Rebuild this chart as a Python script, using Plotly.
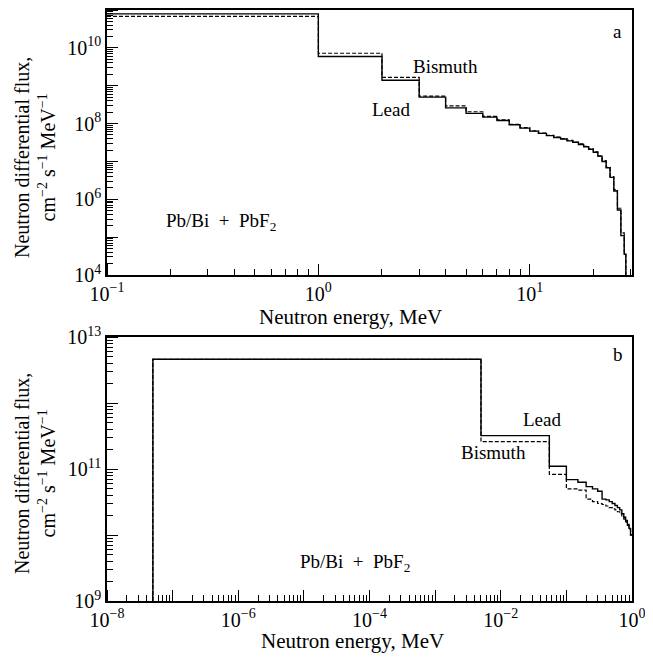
import plotly.graph_objects as go

# ---------------- data: panel a (fast neutrons) ----------------
a_edges = [0.1, 1, 2, 3, 4, 5, 6, 7, 8, 9, 10, 11, 12, 13, 14, 15, 16, 17, 18, 19,
           20, 21, 22, 23, 24, 25, 26, 27, 28, 28.5]
a_lead = [7.9e10, 5.9e9, 1.4e9, 5.0e8, 2.6e8, 1.86e8, 1.48e8, 1.2e8, 9.3e7, 7.6e7,
          6.3e7, 5.5e7, 4.8e7, 4.3e7, 3.9e7, 3.5e7, 3.2e7, 2.8e7, 2.45e7, 2.1e7,
          1.74e7, 1.38e7, 1.0e7, 6.8e6, 3.8e6, 1.66e6, 5.2e5, 1.1e5, 3.5e4]
a_bismuth = [6.8e10, 7.2e9, 1.66e9, 5.3e8, 2.95e8, 2.05e8, 1.55e8, 1.26e8, 9.6e7, 7.8e7,
             6.4e7, 5.6e7, 4.9e7, 4.4e7, 4.0e7, 3.6e7, 3.2e7, 2.9e7, 2.5e7, 2.15e7,
             1.78e7, 1.4e7, 1.05e7, 7.0e6, 4.0e6, 1.8e6, 5.8e5, 1.3e5, 4.0e4]
a_floor = 1e3  # zero flux beyond the last bin (below the axis range)

# ---------------- data: panel b (low-energy neutrons) ----------------
b_edges = [5e-8, 5e-3, 0.055, 0.1, 0.15, 0.2, 0.25, 0.3, 0.35, 0.4, 0.45, 0.5,
           0.55, 0.6, 0.65, 0.7, 0.75, 0.8, 0.85, 0.9, 0.95, 1.0]
b_lead = [4.6e12, 3.2e11, 1.1e11, 6.9e10, 6.3e10, 5.4e10, 5.0e10, 4.6e10, 3.5e10,
          3.4e10, 3.2e10, 3.0e10, 2.8e10, 2.6e10, 2.4e10, 2.1e10, 1.86e10, 1.66e10,
          1.45e10, 1.26e10, 1.0e10]
b_bismuth = [4.6e12, 2.6e11, 8.3e10, 5.0e10, 4.8e10, 3.5e10, 3.2e10, 3.0e10, 2.9e10,
             2.75e10, 2.6e10, 2.5e10, 2.4e10, 2.25e10, 2.1e10, 1.9e10, 1.74e10,
             1.58e10, 1.4e10, 1.23e10, 1.0e10]
b_floor = 1e8  # zero flux below the first bin

# tick labels (labelled decades)
a_xticks = [0.1, 1, 10]
a_xtext = ["10<sup>−1</sup>", "10<sup>0</sup>", "10<sup>1</sup>"]
a_yticks = [1e4, 1e6, 1e8, 1e10]
a_ytext = ["10<sup>4</sup>", "10<sup>6</sup>", "10<sup>8</sup>", "10<sup>10</sup>"]
b_xticks = [1e-8, 1e-6, 1e-4, 1e-2, 1]
b_xtext = ["10<sup>−8</sup>", "10<sup>−6</sup>", "10<sup>−4</sup>", "10<sup>−2</sup>", "10<sup>0</sup>"]
b_yticks = [1e9, 1e11, 1e13]
b_ytext = ["10<sup>9</sup>", "10<sup>11</sup>", "10<sup>13</sup>"]
digits = [2, 3, 4, 5, 6, 7, 8, 9]

FONT = "Liberation Serif"


def minor_positions(lo_exp, hi_exp):
    return [d * 10.0 ** e for e in range(lo_exp, hi_exp) for d in digits]


def decade_positions(lo_exp, hi_exp):
    return [10.0 ** e for e in range(lo_exp, hi_exp + 1)]


def step_xy(edges, vals, start_floor=None, end_floor=None):
    xs, ys = [], []
    if start_floor is not None:
        xs.append(edges[0]); ys.append(start_floor)
    for e, v in zip(edges[:-1], vals):
        xs.append(e); ys.append(v)
    xs.append(edges[-1])
    ys.append(end_floor if end_floor is not None else vals[-1])
    return xs, ys


fig = go.Figure()

solid = dict(color="black", width=1.4)
dashed = dict(color="black", width=1.2, dash="4px,2px")

x, y = step_xy(a_edges, a_bismuth, end_floor=a_floor)
fig.add_trace(go.Scatter(x=x, y=y, mode="lines", line=dict(**dashed, shape="hv"),
                         name="Bismuth", xaxis="x", yaxis="y", showlegend=False))
x, y = step_xy(a_edges, a_lead, end_floor=a_floor)
fig.add_trace(go.Scatter(x=x, y=y, mode="lines", line=dict(**solid, shape="hv"),
                         name="Lead", xaxis="x", yaxis="y", showlegend=False))

x, y = step_xy(b_edges, b_bismuth, start_floor=b_floor)
fig.add_trace(go.Scatter(x=x, y=y, mode="lines", line=dict(**dashed, shape="hv"),
                         name="Bismuth", xaxis="x2", yaxis="y2", showlegend=False))
x, y = step_xy(b_edges, b_lead, start_floor=b_floor)
fig.add_trace(go.Scatter(x=x, y=y, mode="lines", line=dict(**solid, shape="hv"),
                         name="Lead", xaxis="x2", yaxis="y2", showlegend=False))

# empty traces so that the twin (decade-tick) axes get drawn
for xa, ya in [("x3", "y"), ("x", "y3"), ("x4", "y2"), ("x2", "y4")]:
    fig.add_trace(go.Scatter(x=[], y=[], mode="lines", xaxis=xa, yaxis=ya,
                             showlegend=False, hoverinfo="skip"))

# the page has an 8 px body margin, so the figure is 8 px smaller than the window
W, H = 645, 649
OFF = 8
xdom = [99 / W, 624 / W]
ydom_a = [1 - 267 / H, 1 - 2 / H]
ydom_b = [1 - 593 / H, 1 - 329 / H]

tickfont = dict(family=FONT, size=20, color="black")

MAJOR_LEN, MINOR_LEN = 11, 6


def main_axis(rng, tickvals, ticktext, minors, domain, anchor):
    return dict(type="log", range=rng, domain=domain, anchor=anchor, automargin=False,
                showgrid=False, zeroline=False, showline=True, linecolor="black",
                linewidth=1.5, mirror=True, ticks="inside", ticklen=MAJOR_LEN, tickwidth=1,
                tickcolor="black", tickfont=tickfont, tickmode="array",
                tickvals=tickvals, ticktext=ticktext,
                minor=dict(ticks="inside", ticklen=MINOR_LEN, tickwidth=1, tickcolor="black",
                           tickmode="array", tickvals=minors, showgrid=False))


def overlay_axis(rng, minors, decades, domain, anchor, over):
    # long decade ticks, drawn as the minor ticks of an unlabelled twin axis
    return dict(type="log", range=rng, domain=domain, anchor=anchor, overlaying=over,
                automargin=False, showgrid=False, zeroline=False, showline=False,
                ticks="", tickmode="array", tickvals=minors, showticklabels=False,
                minor=dict(ticks="inside", ticklen=MAJOR_LEN, tickwidth=1.2, tickcolor="black",
                           tickmode="array", tickvals=decades, showgrid=False))


a_xr = [-1, 1.484]
a_yr = [4, 11]
b_xr = [-8, 0]
b_yr = [9, 13]

fig.update_layout(
    template="none",
    width=W, height=H, margin=dict(l=0, r=0, t=0, b=0),
    paper_bgcolor="white", plot_bgcolor="rgba(0,0,0,0)",
    font=dict(family=FONT, color="black"),
    xaxis=main_axis(a_xr, a_xticks, a_xtext, minor_positions(-1, 2), xdom, "y"),
    yaxis=main_axis(a_yr, a_yticks, a_ytext, minor_positions(4, 11), ydom_a, "x"),
    xaxis2=main_axis(b_xr, b_xticks, b_xtext, minor_positions(-8, 0), xdom, "y2"),
    yaxis2=main_axis(b_yr, b_yticks, b_ytext, minor_positions(9, 13), ydom_b, "x2"),
    xaxis3=overlay_axis(a_xr, minor_positions(-1, 2), decade_positions(-1, 1), xdom, "y", "x"),
    yaxis3=overlay_axis(a_yr, minor_positions(4, 11), decade_positions(4, 11), ydom_a, "x", "y"),
    xaxis4=overlay_axis(b_xr, minor_positions(-8, 0), decade_positions(-8, 0), xdom, "y2", "x2"),
    yaxis4=overlay_axis(b_yr, minor_positions(9, 13), decade_positions(9, 13), ydom_b, "x2", "y2"),
)

# axis titles (placed by pixel position of the reference)
ytitle = "Neutron differential flux,<br>cm<sup>−2</sup> s<sup>−1</sup> MeV<sup>−1</sup>"
xtitle = "Neutron energy, MeV"
titles = [
    (350, 317, xtitle, 0, 21),
    (353, 641, xtitle, 0, 21),
    (35, 158, ytitle, -90, 20),
    (35, 474, ytitle, -90, 20),
]
for sx, sy, t, ang, fs in titles:
    fig.add_annotation(xref="paper", yref="paper", x=(sx - OFF) / W, y=1 - (sy - OFF) / H,
                       text=t, showarrow=False, textangle=ang,
                       font=dict(family=FONT, size=fs, color="black"),
                       xanchor="center", yanchor="middle")

ann_font = dict(family=FONT, size=19, color="black")
pb = "Pb/Bi  +  PbF<sub>2</sub>"
labels = [
    ("x domain", "y domain", 0.973, 0.917, "a"),
    ("x domain", "y domain", 0.644, 0.785, "Bismuth"),
    ("x domain", "y domain", 0.540, 0.623, "Lead"),
    ("x domain", "y domain", 0.217, 0.200, pb),
    ("x2 domain", "y2 domain", 0.973, 0.932, "b"),
    ("x2 domain", "y2 domain", 0.829, 0.689, "Lead"),
    ("x2 domain", "y2 domain", 0.736, 0.561, "Bismuth"),
    ("x2 domain", "y2 domain", 0.473, 0.144, pb),
]
for xr, yr, xv, yv, t in labels:
    fig.add_annotation(xref=xr, yref=yr, x=xv, y=yv, text=t.replace("  ", "\u00a0 "),
                       showarrow=False, font=ann_font, xanchor="center", yanchor="middle")

fig.write_html("out.html")
